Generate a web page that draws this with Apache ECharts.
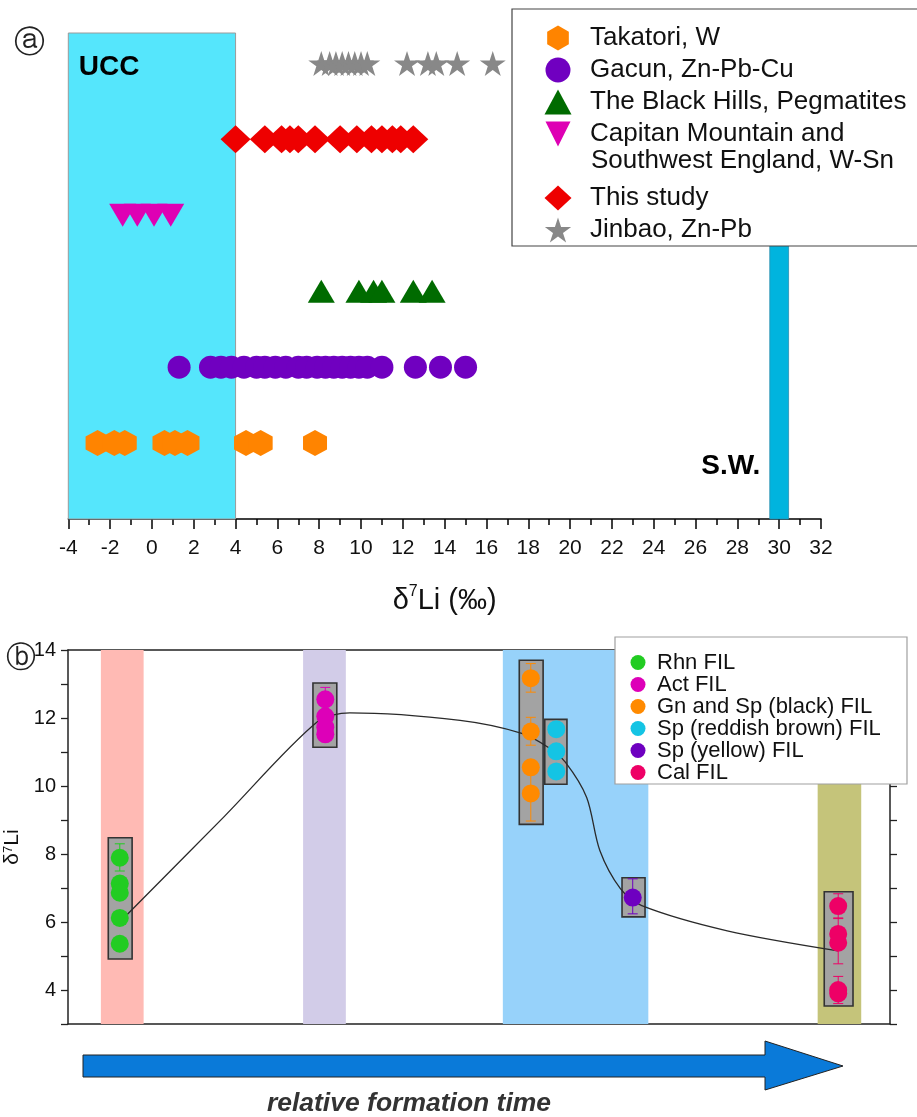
<!DOCTYPE html>
<html><head><meta charset="utf-8">
<script src="https://cdn.jsdelivr.net/npm/echarts@6/dist/echarts.min.js"></script>
<style>html,body{margin:0;padding:0;background:#fff}#c{width:917px;height:1117px}</style>
</head><body><div id="c"></div>
<script>
const FONT = '"Liberation Sans", Arial, sans-serif';

// ---------- Panel (a): δ7Li values (‰) ----------
const takatori   = [-2.6, -1.8, -1.3, 0.6, 1.1, 1.7, 4.5, 5.2, 7.8];
const gacun      = [1.3, 2.8, 3.3, 3.8, 4.4, 5.0, 5.4, 5.9, 6.4, 7.0, 7.4, 7.9, 8.3, 8.7, 9.1, 9.5, 9.9, 10.3, 11.0, 12.6, 13.8, 15.0];
const blackHills = [8.1, 9.9, 10.6, 11.0, 12.5, 13.4];
const capitan    = [-1.4, -0.7, 0.1, 0.9];
const thisStudy  = [4.0, 5.4, 6.2, 6.6, 7.0, 7.8, 9.0, 9.8, 10.5, 11.0, 11.5, 11.9, 12.5];
const jinbao     = [8.1, 8.5, 8.8, 9.1, 9.4, 9.7, 10.0, 10.3, 12.2, 13.2, 13.6, 14.6, 16.3];
const rowNames   = ['Takatori, W', 'Gacun, Zn-Pb-Cu', 'The Black Hills, Pegmatites',
                    'Capitan Mountain and Southwest England, W-Sn', 'This study', 'Jinbao, Zn-Pb'];
const rowLevels  = [1, 2, 3, 4, 5, 6];
const uccRange   = [-4, 4];
const swRange    = [29.55, 30.45];

// ---------- Panel (b): fluid inclusion δ7Li ----------
const stageNames = ['Rhn FIL', 'Act FIL', 'Gn and Sp (black) FIL', 'Sp (reddish brown) FIL', 'Sp (yellow) FIL', 'Cal FIL'];
const stageX     = [6.3, 31.3, 56.3, 59.4, 68.7, 93.7];
const rhn  = [7.89, 7.13, 6.86, 6.12, 5.36];
const act  = [12.55, 12.05, 11.73, 11.52];
const gnSp = [13.17, 11.6, 10.55, 9.78];
const spRB = [11.67, 11.02, 10.43];
const spY  = [6.72];
const cal  = [6.47, 5.65, 5.39, 4.0, 3.9];
const boxLeft  = [4.9, 29.8, 54.9, 58.0, 67.4, 92.0];
const boxRight = [7.8, 32.7, 57.8, 60.7, 70.2, 95.5];
const boxLow   = [4.91, 11.14, 8.87, 10.05, 6.15, 3.53];
const boxHigh  = [8.48, 13.03, 13.7, 11.96, 7.30, 6.89];
const bandStart = [4.0, 28.6, 52.9, 91.2];
const bandEnd   = [9.2, 33.8, 70.6, 96.5];
const errStage = [0, 1, 2, 2, 2, 4, 5, 5, 5];
const errLow   = [7.5, 12.2, 12.76, 11.2, 8.97, 6.24, 6.1, 4.77, 3.6];
const errHigh  = [8.3, 12.9, 13.6, 12.02, 10.6, 7.27, 6.83, 6.12, 4.4];
const curveX = [6.3, 19, 30.3, 34.3, 47.7, 55.2, 58.4, 60.5, 63.1, 64.7, 67.2, 69.8, 80.2, 93.7];
const curveY = [6.0, 9.1, 11.88, 12.15, 11.93, 11.55, 11.14, 10.7, 9.66, 8.1, 6.98, 6.48, 5.74, 5.15];

// ---------- styles ----------
const topColors = ['#ff8400', '#7000c0', '#006b00', '#de00b4', '#ee0000', '#888888'];
const hexPath  = 'path://M0,-1L0.866,-0.5L0.866,0.5L0,1L-0.866,0.5L-0.866,-0.5Z';
const downTriPath = 'path://M-1,-1L1,-1L0,1Z';
const starPath = 'path://M0,-1L0.2235,-0.3075L0.951,-0.309L0.3614,0.1174L0.5878,0.809L0,0.38L-0.5878,0.809L-0.3614,0.1174L-0.951,-0.309L-0.2235,-0.3075Z';
const topSymbols = [hexPath, 'circle', 'triangle', downTriPath, 'diamond', starPath];
const topSizes = [[24, 26], 23, [27, 23], [27, 23], [30, 28], [26, 25]];
const stageColors = ['#22cc22', '#dd00b8', '#ff8a00', '#14c4e4', '#6e00c0', '#ee0066'];
const bandColors = ['#ffbab4', '#d2cce8', '#97d2fa', '#c5c47a'];

const topData = [takatori, gacun, blackHills, capitan, thisStudy, jinbao];
const stageData = [rhn, act, gnSp, spRB, spY, cal];

const series = [];
series.push({
  type: 'line', xAxisIndex: 0, yAxisIndex: 0, data: [], z: 1, silent: true,
  markArea: {
    silent: true,
    data: [
      [{ xAxis: uccRange[0], yAxis: 0, name: 'UCC',
         itemStyle: { color: '#55e6fc', borderColor: '#9a9a9a', borderWidth: 1 },
         label: { show: true, formatter: 'UCC', position: [11, 21], color: '#000', fontSize: 28, fontWeight: 'bold', fontFamily: FONT } },
       { xAxis: uccRange[1], yAxis: 6.4 }],
      [{ xAxis: swRange[0], yAxis: 0, name: 'S.W.',
         itemStyle: { color: '#00b4de', borderColor: '#2a8fb0', borderWidth: 0.8 },
         label: { show: true, formatter: 'S.W.', position: [-9, 434], align: 'right', verticalAlign: 'middle', color: '#000', fontSize: 28, fontWeight: 'bold', fontFamily: FONT } },
       { xAxis: swRange[1], yAxis: 6.4 }]
    ]
  }
});
topData.forEach((vals, i) => {
  series.push({
    type: 'scatter', name: rowNames[i], xAxisIndex: 0, yAxisIndex: 0, z: 5,
    symbol: topSymbols[i], symbolSize: topSizes[i],
    symbolKeepAspect: false,
    itemStyle: { color: topColors[i], opacity: 1 },
    emphasis: { disabled: true },
    data: vals.map(v => [v, rowLevels[i]])
  });
});
series.push({
  type: 'line', xAxisIndex: 1, yAxisIndex: 1, data: [], z: 1, silent: true,
  markArea: {
    silent: true,
    data: bandStart.map((s, i) => [
      { xAxis: s, yAxis: 3, itemStyle: { color: bandColors[i], borderWidth: 0 } },
      { xAxis: bandEnd[i], yAxis: 14 }])
  }
});
series.push({
  type: 'line', xAxisIndex: 1, yAxisIndex: 1, z: 2, silent: true,
  data: curveX.map((x, i) => [x, curveY[i]]),
  smooth: 0.3, symbol: 'none', lineStyle: { color: '#2a2a2a', width: 1.3 }
});
series.push({
  type: 'line', xAxisIndex: 1, yAxisIndex: 1, data: [], z: 3, silent: true,
  markArea: {
    silent: true,
    data: boxLeft.map((l, i) => [
      { xAxis: l, yAxis: boxLow[i], itemStyle: { color: '#a3a3a3', borderColor: '#333', borderWidth: 1.6 } },
      { xAxis: boxRight[i], yAxis: boxHigh[i] }])
  }
});
series.push({
  type: 'custom', xAxisIndex: 1, yAxisIndex: 1, z: 4, silent: true,
  data: errStage.map((s, i) => [stageX[s], errLow[i], errHigh[i], s]),
  encode: { x: 0, y: [1, 2] },
  renderItem: function (params, api) {
    const x = api.value(0), lo = api.value(1), hi = api.value(2), s = api.value(3);
    const a = api.coord([x, lo]), b = api.coord([x, hi]);
    const c = stageColors[s], w = 5;
    const st = { stroke: c, lineWidth: 1 };
    return { type: 'group', children: [
      { type: 'line', shape: { x1: a[0], y1: a[1], x2: b[0], y2: b[1] }, style: st },
      { type: 'line', shape: { x1: a[0] - w, y1: a[1], x2: a[0] + w, y2: a[1] }, style: st },
      { type: 'line', shape: { x1: b[0] - w, y1: b[1], x2: b[0] + w, y2: b[1] }, style: st }
    ]};
  }
});
stageData.forEach((vals, i) => {
  series.push({
    type: 'scatter', name: stageNames[i], xAxisIndex: 1, yAxisIndex: 1, z: 5,
    symbol: 'circle', symbolSize: 18,
    itemStyle: { color: stageColors[i], opacity: 1 },
    emphasis: { disabled: true },
    data: vals.map(v => [stageX[i], v])
  });
});

const legendText = { fontSize: 26, lineHeight: 32, color: '#111', fontFamily: FONT, padding: [0, 0, 0, 13.5] };

const option = {
  animation: false,
  backgroundColor: '#fff',
  grid: [
    { left: 68.3, right: 96, top: 33, bottom: 598, containLabel: false, outerBoundsMode: 'none' },
    { left: 68, right: 27, top: 650, bottom: 93, containLabel: false, outerBoundsMode: 'none' }
  ],
  xAxis: [
    { gridIndex: 0, type: 'value', min: -4, max: 32, interval: 2,
      axisLine: { onZero: false, lineStyle: { color: '#000', width: 1.5 } },
      axisTick: { show: true, length: 10, lineStyle: { color: '#000', width: 1.5 } },
      minorTick: { show: true, splitNumber: 2, length: 6, lineStyle: { color: '#000', width: 1.5 } },
      splitLine: { show: false }, minorSplitLine: { show: false },
      axisLabel: { fontSize: 21, color: '#111', fontFamily: FONT, margin: 19 },
      name: '{d|δ}{s|7}{d|Li (‰)}', nameLocation: 'middle', nameGap: 65,
      nameTextStyle: { fontFamily: FONT, color: '#111', rich: {
        d: { fontSize: 29, lineHeight: 34, fontFamily: FONT, color: '#111' },
        s: { fontSize: 16, lineHeight: 18, verticalAlign: 'top', fontFamily: FONT, color: '#111' } } } },
    { gridIndex: 1, type: 'value', min: 0, max: 100, position: 'bottom',
      axisLine: { onZero: false, lineStyle: { color: '#222', width: 1.5 } },
      axisTick: { show: false }, axisLabel: { show: false }, splitLine: { show: false } },
    { gridIndex: 1, type: 'value', min: 0, max: 100, position: 'top',
      axisLine: { onZero: false, lineStyle: { color: '#222', width: 1.5 } },
      axisTick: { show: false }, axisLabel: { show: false }, splitLine: { show: false } }
  ],
  yAxis: [
    { gridIndex: 0, type: 'value', min: 0, max: 6.4, show: false },
    { gridIndex: 1, type: 'value', min: 3, max: 14, interval: 1, position: 'left',
      axisLine: { show: true, onZero: false, lineStyle: { color: '#222', width: 1.5 } },
      axisTick: { show: true, length: 7, lineStyle: { color: '#222', width: 1.3 } },
      splitLine: { show: false },
      axisLabel: { fontSize: 20, color: '#111', fontFamily: FONT, margin: 12,
        formatter: v => (v % 2 === 0 ? String(v) : '') },
      name: 'δ{s|7}Li', nameLocation: 'middle', nameGap: 37,
      nameTextStyle: { fontSize: 21, color: '#111', fontFamily: FONT, padding: [0, 20, 0, 0], rich: {
        s: { fontSize: 13, lineHeight: 13, verticalAlign: 'top', fontFamily: FONT, color: '#111' } } } },
    { gridIndex: 1, type: 'value', min: 3, max: 14, interval: 1, position: 'right',
      axisLine: { show: true, onZero: false, lineStyle: { color: '#222', width: 1.5 } },
      axisTick: { show: true, length: 7, lineStyle: { color: '#222', width: 1.3 } },
      splitLine: { show: false }, axisLabel: { show: false } }
  ],
  legend: [
    { orient: 'vertical', left: 539.5, top: 17, itemWidth: 27, itemHeight: 25, itemGap: 0,
      selectedMode: false, z: 20, data: rowNames.slice(0, 4), textStyle: legendText,
      formatter: n => (n.indexOf('Capitan') === 0 ? 'Capitan Mountain and' : n) },
    { orient: 'vertical', left: 539.5, top: 177, itemWidth: 27, itemHeight: 25, itemGap: 0,
      selectedMode: false, z: 20, data: rowNames.slice(4), textStyle: legendText },
    { orient: 'vertical', left: 625.5, top: 646.5, itemWidth: 15, itemHeight: 15, itemGap: 0,
      selectedMode: false, z: 20, data: stageNames, icon: 'circle',
      textStyle: { fontSize: 22, lineHeight: 21.5, color: '#111', fontFamily: FONT, padding: [0, 0, 0, 6.5] } }
  ],
  graphic: [
    { type: 'rect', z: 3, shape: { x: 512, y: 9, width: 420, height: 237 },
      style: { fill: '#fff', stroke: '#444', lineWidth: 1.2 }, silent: true },
    { type: 'text', z: 21, x: 591, y: 161,
      style: { text: 'Southwest England, W-Sn', fontSize: 26, fontFamily: FONT, fill: '#111', verticalAlign: 'middle' } },
    { type: 'rect', z: 3, shape: { x: 615, y: 637, width: 292, height: 147 },
      style: { fill: '#fff', stroke: '#a0a0a0', lineWidth: 1.2 }, silent: true },
    { type: 'text', z: 21, x: 29, y: 44,
      style: { text: 'ⓐ', fontSize: 31, fontFamily: '"DejaVu Sans"', fill: '#222', align: 'center', verticalAlign: 'middle' } },
    { type: 'text', z: 21, x: 21, y: 659,
      style: { text: 'ⓑ', fontSize: 30, fontFamily: '"DejaVu Sans"', fill: '#222', align: 'center', verticalAlign: 'middle' } },
    { type: 'polygon', z: 3, silent: true,
      shape: { points: [[83, 1055], [765, 1055], [765, 1041], [843, 1066], [765, 1090], [765, 1077], [83, 1077]] },
      style: { fill: '#0a7ad9', stroke: '#222', lineWidth: 1 } },
    { type: 'text', z: 21, x: 409, y: 1104,
      style: { text: 'relative formation time', fontSize: 26.5, fontStyle: 'italic', fontWeight: 'bold',
               fontFamily: FONT, fill: '#333', align: 'center', verticalAlign: 'middle' } }
  ],
  series: series
};

const chart = echarts.init(document.getElementById('c'), null, { renderer: 'canvas' });
chart.setOption(option);
</script>
</body></html>
